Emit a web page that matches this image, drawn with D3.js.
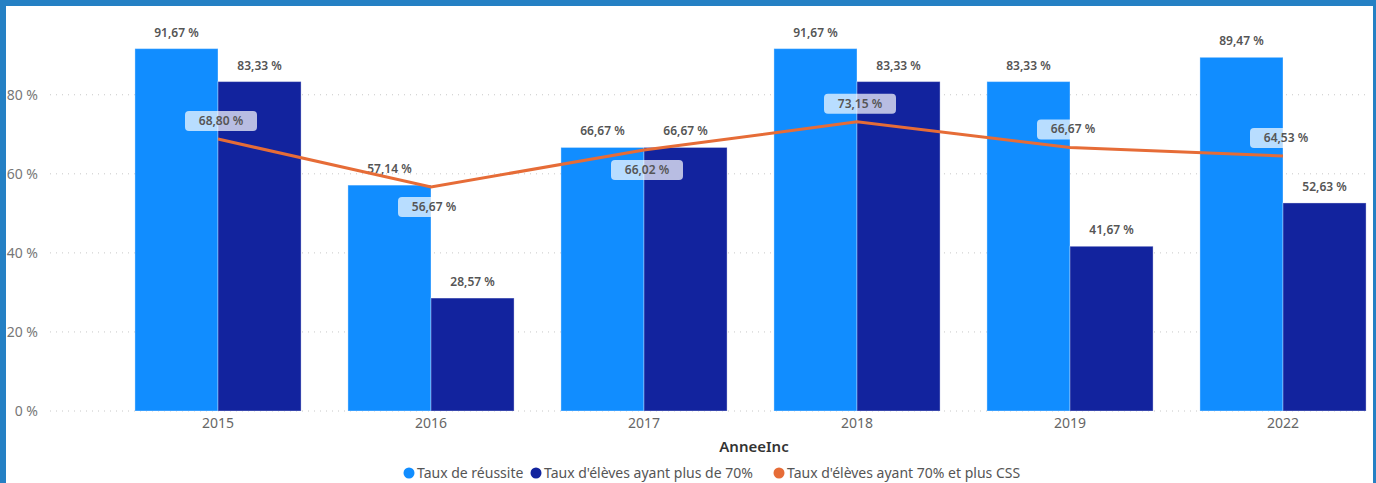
<!DOCTYPE html>
<html>
<head>
<meta charset="utf-8">
<script src="https://cdn.jsdelivr.net/npm/d3@7"></script>
<style>
  body { margin:0; background:#fff; }
  #chart { width:1376px; height:483px; }
  text { font-family: "Segoe UI", "Noto Sans", "Open Sans", sans-serif; }
</style>
</head>
<body>
<div id="chart"></div>
<script>
// data
var years = ["2015", "2016", "2017", "2018", "2019", "2022"];
var tauxReussite = [91.67, 57.14, 66.67, 91.67, 83.33, 89.47];
var tauxPlus70 = [83.33, 28.57, 66.67, 83.33, 41.67, 52.63];
var tauxCSS = [68.80, 56.67, 66.02, 73.15, 66.67, 64.53];
var yTicks = [0, 20, 40, 60, 80];
// where the line labels sit: 1 = above the point, -1 = below
var cssLabelSide = [1, -1, -1, 1, 1, 1];
var seriesNames = ["Taux de réussite", "Taux d'élèves ayant plus de 70%", "Taux d'élèves ayant 70% et plus CSS"];
var colors = ["#118DFF", "#12239E", "#E66C37"];

var W = 1376, H = 483;
var fmt = function(v){ return v.toFixed(2).replace(".", ",") + " %"; };

var svg = d3.select("#chart")
    .append("svg")
    .attr("width", W)
    .attr("height", H);

// frame
svg.append("rect").attr("x",0).attr("y",0).attr("width",W).attr("height",H).attr("fill","#2580C4");
svg.append("rect").attr("x",6).attr("y",6).attr("width",W-9).attr("height",H-6).attr("fill","#fff");

var x = d3.scaleBand()
    .domain(years)
    .range([111.5, 1389.5])
    .paddingInner(0.22)
    .paddingOuter(0.11);

var y = d3.scaleLinear()
    .domain([0, 100])
    .range([411, 15.7]);

// grid
svg.append("g")
    .selectAll("line")
    .data(yTicks)
    .enter()
    .append("line")
    .attr("x1", 50).attr("x2", 1370)
    .attr("y1", function(d){ return y(d); })
    .attr("y2", function(d){ return y(d); })
    .style("stroke", "#c8c8c8")
    .style("stroke-width", 1)
    .style("stroke-dasharray", "1,5");

// y axis
var yAxis = svg.append("g")
    .attr("transform", "translate(38,0)")
    .call(d3.axisLeft(y).tickValues(yTicks).tickSize(0).tickFormat(function(d){ return d + " %"; }));
yAxis.select(".domain").remove();
yAxis.selectAll("text").attr("x", 0).style("font-size", "14px").style("fill", "#777");

// x axis
var xAxis = svg.append("g")
    .attr("transform", "translate(0,411)")
    .call(d3.axisBottom(x).tickSize(0));
xAxis.select(".domain").remove();
xAxis.selectAll("text").attr("y", 7).style("font-size", "14px").style("fill", "#666");

svg.append("text")
    .attr("x", 754).attr("y", 452)
    .style("text-anchor", "middle")
    .style("font-size", "15px")
    .style("font-weight", "600")
    .style("fill", "#333")
    .text("AnneeInc");

var half = x.bandwidth() / 2;
var seriesVals = [tauxReussite, tauxPlus70];

seriesVals.forEach(function(vals, s){
    var g = svg.append("g");
    g.selectAll("rect")
        .data(vals)
        .enter()
        .append("rect")
        .attr("x", function(d, i){ return x(years[i]) + s * half; })
        .attr("y", function(d){ return y(d); })
        .attr("width", half)
        .attr("height", function(d){ return y(0) - y(d); })
        .style("fill", colors[s])
        .style("stroke", "rgba(255,255,255,0.35)")
        .style("stroke-width", 1);
    g.selectAll("text")
        .data(vals)
        .enter()
        .append("text")
        .attr("x", function(d, i){ return x(years[i]) + s * half + half / 2; })
        .attr("y", function(d){ return y(d) - 12; })
        .style("text-anchor", "middle")
        .style("font-size", "12px")
        .style("font-weight", "600")
        .style("fill", "#555")
        .text(function(d){ return fmt(d); });
});

// line
var line = d3.line()
    .x(function(d, i){ return x(years[i]) + half; })
    .y(function(d){ return y(d); });

svg.append("path")
    .datum(tauxCSS)
    .attr("d", line)
    .style("fill", "none")
    .style("stroke", colors[2])
    .style("stroke-width", 3);

var lbl = svg.append("g")
    .selectAll("g")
    .data(tauxCSS)
    .enter()
    .append("g")
    .attr("transform", function(d, i){
        var cy = y(d) + (cssLabelSide[i] > 0 ? -18 : 20);
        return "translate(" + (x(years[i]) + half + 3) + "," + cy + ")";
    });
lbl.append("rect")
    .attr("x", -36).attr("y", -10)
    .attr("width", 72).attr("height", 20)
    .attr("rx", 4)
    .style("fill", "rgba(255,255,255,0.7)");
lbl.append("text")
    .attr("y", 4)
    .style("text-anchor", "middle")
    .style("font-size", "12px")
    .style("font-weight", "600")
    .style("fill", "#555")
    .text(function(d){ return fmt(d); });

// legend
var legendX = [409, 536, 779];
var leg = svg.append("g")
    .selectAll("g")
    .data(seriesNames)
    .enter()
    .append("g")
    .attr("transform", function(d, i){ return "translate(" + legendX[i] + ",473)"; });
leg.append("circle")
    .attr("r", 5.5)
    .style("fill", function(d, i){ return colors[i]; });
leg.append("text")
    .attr("x", 8).attr("y", 5)
    .style("font-size", "14px")
    .style("fill", "#555")
    .text(function(d){ return d; });
</script>
</body>
</html>
